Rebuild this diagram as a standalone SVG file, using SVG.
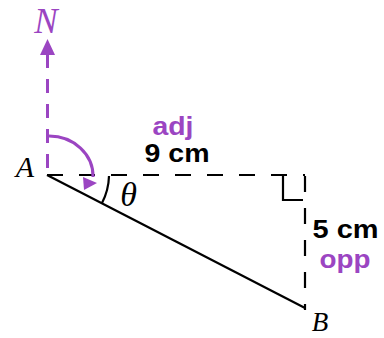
<svg xmlns="http://www.w3.org/2000/svg" width="384" height="338" viewBox="0 0 384 338">
<style>
.blk{stroke:#000;fill:none;stroke-width:2.2}
.dash{stroke-dasharray:16 16}
.pur{stroke:#9b45c2;fill:none;stroke-width:3}
.lbl{font-family:"Liberation Sans",Arial,sans-serif;font-weight:bold;font-size:25px;text-anchor:middle}
.var{font-family:"Liberation Serif","Times New Roman",serif;font-style:italic;text-anchor:middle}
</style>
<rect width="384" height="338" fill="#fff"/>
<g id="connectors">
<path class="blk dash" d="M47,175 H305"/>
<path class="blk dash" d="M305,176 V310"/>
<path class="blk" d="M47,175 L305,308"/>
<path class="pur" stroke-dasharray="14 11" d="M47.5,168 V54"/>
<polygon fill="#9b45c2" points="47.5,39 40,55 55,55"/>
<path class="pur" d="M49,136 A44,40 0 0 1 93,177"/>
<polygon fill="#9b45c2" points="83,177 84,190 97,183"/>
<path class="blk" d="M109,176 A62,62 0 0 1 102,203"/>
<path class="blk" d="M283,175 V200 H303"/>
</g>
<g id="N"><text class="var" x="46" y="33" font-size="35" fill="#9b45c2">N</text></g>
<g id="A"><text class="var" x="25" y="177" font-size="30">A</text></g>
<g id="B"><text class="var" x="320" y="331" font-size="27">B</text></g>
<g id="theta"><text class="var" x="128.5" y="206" font-size="34">θ</text></g>
<g id="adj-label">
<text class="lbl" x="173" y="135" fill="#9b45c2" textLength="41" lengthAdjust="spacingAndGlyphs">adj</text>
<text class="lbl" x="177" y="162" fill="#000" textLength="65" lengthAdjust="spacingAndGlyphs">9 cm</text>
</g>
<g id="opp-label">
<text class="lbl" x="345.5" y="238" fill="#000" textLength="66" lengthAdjust="spacingAndGlyphs">5 cm</text>
<text class="lbl" x="345" y="268" fill="#9b45c2" textLength="51" lengthAdjust="spacingAndGlyphs">opp</text>
</g>
</svg>
